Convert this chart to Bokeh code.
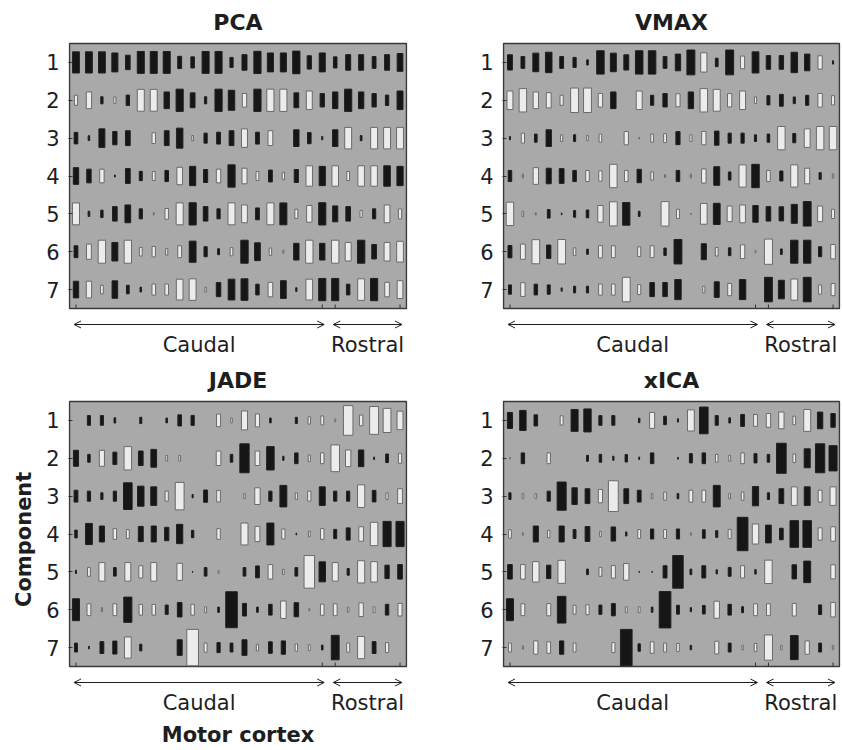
import numpy as np
from bokeh.plotting import figure
from bokeh.models import ColumnDataSource, Range1d, FixedTicker, Label, Arrow, OpenHead, Title
from bokeh.layouts import column, row
from bokeh.embed import file_html
from bokeh.resources import INLINE

# ---------------- data ----------------
components = [1, 2, 3, 4, 5, 6, 7]
n_channels = 26
caudal_span = (0, 19)      # channel index range of the caudal part
rostral_span = (20, 25)    # channel index range of the rostral part
edge_ticks = [0, 19, 20, 25]

# signed weights: >0 drawn black, <0 drawn white; |w| = relative size
pca = [
    [0.57, 0.57, 0.57, 0.51, 0.39, 0.59, 0.59, 0.59, 0.33, 0.30, 0.59, 0.59, 0.27, 0.42, 0.60, 0.51, 0.51, 0.61, 0.36, 0.51, 0.30, 0.42, 0.42, 0.32, 0.42, 0.48],
    [-0.27, -0.45, 0.19, -0.18, 0.28, -0.59, -0.59, 0.45, 0.60, 0.40, 0.19, 0.60, 0.54, -0.37, 0.60, -0.60, -0.60, 0.40, -0.50, 0.36, 0.45, 0.60, 0.45, 0.36, 0.28, 0.50],
    [0.31, 0.13, 0.50, 0.36, 0.40, 0.0, -0.29, 0.40, 0.54, -0.14, 0.27, 0.32, 0.40, -0.50, 0.32, -0.40, 0.0, 0.45, 0.30, 0.09, 0.45, -0.58, 0.14, -0.58, -0.58, -0.58],
    [0.45, 0.37, -0.37, 0.06, 0.40, 0.25, -0.24, 0.30, -0.47, 0.52, 0.35, -0.37, 0.60, -0.42, -0.24, 0.32, -0.20, 0.35, -0.55, 0.52, -0.55, -0.24, -0.55, -0.55, 0.55, 0.52],
    [-0.59, 0.14, 0.20, 0.39, 0.48, 0.27, -0.07, -0.29, -0.59, 0.60, 0.39, 0.27, -0.59, -0.48, 0.32, -0.59, 0.59, -0.25, -0.45, 0.60, 0.43, 0.39, -0.19, 0.27, -0.48, -0.27],
    [0.32, -0.41, -0.62, 0.50, -0.62, -0.23, -0.28, -0.18, -0.32, 0.57, 0.27, 0.16, -0.22, 0.62, 0.48, -0.20, -0.09, 0.45, -0.62, 0.45, -0.62, -0.50, 0.62, 0.39, -0.50, -0.56],
    [0.45, -0.45, -0.23, 0.47, 0.23, 0.13, -0.30, -0.30, -0.56, -0.58, -0.13, 0.38, 0.56, 0.58, 0.29, -0.39, 0.48, 0.10, -0.56, 0.60, 0.60, 0.29, -0.58, 0.60, -0.39, -0.48],
]
vmax = [
    [0.41, 0.32, 0.50, 0.55, 0.32, 0.27, 0.14, 0.63, 0.50, 0.41, 0.63, 0.63, 0.32, 0.45, 0.67, -0.52, 0.23, 0.67, -0.34, 0.57, 0.37, 0.37, 0.55, 0.45, -0.36, 0.09],
    [-0.50, -0.63, -0.45, -0.41, -0.27, -0.66, -0.66, -0.37, 0.45, 0.0, -0.50, 0.27, 0.36, -0.35, 0.45, -0.63, -0.59, -0.36, -0.50, -0.18, 0.25, 0.32, 0.18, 0.27, -0.37, -0.25],
    [0.09, -0.27, 0.22, 0.45, -0.18, 0.18, -0.14, -0.22, 0.0, -0.36, -0.05, -0.22, -0.24, 0.35, -0.18, -0.36, 0.38, 0.27, 0.27, 0.18, 0.22, -0.63, 0.25, -0.50, -0.63, -0.63],
    [0.30, -0.10, -0.45, 0.42, 0.40, 0.30, -0.30, -0.28, -0.63, -0.30, 0.36, -0.22, -0.08, 0.30, -0.10, -0.38, 0.50, 0.22, -0.60, 0.63, -0.30, 0.27, -0.60, -0.42, 0.18, -0.12],
    [-0.63, -0.14, -0.07, 0.23, 0.05, 0.18, 0.21, -0.45, -0.65, 0.61, 0.14, 0.0, -0.66, -0.25, -0.04, -0.56, 0.57, -0.42, -0.48, 0.45, 0.39, 0.38, 0.51, 0.66, -0.42, -0.25],
    [0.33, -0.41, -0.65, 0.36, -0.66, -0.21, 0.14, -0.33, -0.32, 0.0, -0.26, -0.32, 0.20, 0.66, 0.0, 0.43, -0.23, 0.21, -0.37, -0.07, -0.68, 0.15, 0.62, 0.62, 0.27, -0.39],
    [0.25, -0.37, 0.29, 0.25, 0.09, 0.18, 0.18, -0.30, -0.30, -0.66, -0.27, 0.38, 0.38, 0.54, 0.0, -0.18, 0.42, -0.33, 0.54, 0.0, 0.66, 0.50, -0.57, 0.66, -0.25, -0.33],
]
jade = [
    [0.0, 0.26, 0.26, 0.14, 0.0, 0.17, 0.0, 0.13, 0.30, 0.27, 0.0, -0.34, -0.13, -0.51, -0.35, 0.13, 0.0, 0.17, -0.20, -0.24, -0.08, -0.80, -0.29, -0.75, -0.65, -0.50],
    [0.43, 0.21, -0.43, 0.33, -0.63, 0.39, 0.48, -0.15, -0.15, 0.0, 0.0, -0.39, 0.21, 0.78, -0.39, 0.63, 0.11, 0.29, -0.18, -0.29, -0.72, -0.45, 0.45, 0.07, 0.23, -0.27],
    [0.32, 0.27, 0.18, 0.27, 0.72, 0.54, 0.50, -0.27, -0.74, 0.09, 0.33, -0.31, 0.0, -0.13, -0.45, 0.27, 0.58, -0.18, -0.27, 0.50, 0.27, 0.27, -0.61, 0.31, -0.18, -0.40],
    [0.21, 0.57, 0.43, -0.29, -0.24, 0.41, 0.43, 0.36, 0.52, 0.20, 0.0, -0.29, 0.0, -0.59, -0.41, 0.59, -0.27, 0.05, -0.15, -0.29, 0.25, 0.33, -0.39, -0.63, 0.68, 0.68],
    [0.09, -0.24, -0.50, 0.23, -0.50, -0.33, -0.50, 0.0, -0.46, 0.03, 0.23, -0.08, 0.0, 0.23, 0.32, -0.39, -0.14, 0.23, -0.88, 0.54, -0.50, 0.18, -0.60, -0.55, 0.36, 0.39],
    [0.59, -0.32, -0.11, -0.32, 0.68, -0.29, -0.29, 0.25, 0.39, -0.29, -0.16, 0.14, 0.97, 0.34, 0.14, 0.29, -0.47, 0.38, -0.07, -0.30, -0.32, -0.14, -0.37, -0.16, 0.29, -0.34],
    [0.24, 0.07, 0.32, 0.35, -0.57, 0.18, 0.0, 0.0, 0.42, -0.98, -0.25, 0.27, 0.24, 0.42, -0.18, 0.31, 0.36, -0.20, -0.16, 0.13, 0.66, -0.25, -0.60, 0.32, -0.27, 0.0],
]
xica = [
    [0.43, 0.54, 0.30, 0.0, -0.25, 0.59, 0.62, 0.26, 0.26, 0.0, 0.12, -0.43, 0.23, 0.09, -0.57, 0.72, 0.26, 0.14, 0.32, -0.32, -0.37, -0.45, -0.23, -0.59, 0.45, 0.37],
    [-0.05, 0.29, 0.0, -0.29, 0.0, 0.0, 0.16, 0.21, 0.11, 0.20, 0.07, 0.29, 0.0, 0.05, 0.25, 0.29, -0.21, -0.16, -0.29, 0.25, 0.21, 0.81, -0.23, 0.51, 0.78, 0.68],
    [0.18, -0.14, -0.14, 0.27, 0.76, 0.45, 0.40, -0.36, -0.83, 0.40, 0.32, -0.14, -0.22, 0.14, -0.32, -0.32, 0.58, -0.14, -0.22, 0.52, 0.18, 0.40, -0.50, 0.50, -0.32, -0.50],
    [-0.23, -0.07, 0.43, -0.20, 0.43, 0.24, 0.40, -0.14, 0.38, 0.11, -0.24, 0.27, -0.24, 0.27, -0.07, 0.23, 0.18, -0.25, 0.90, -0.54, 0.48, 0.31, 0.72, 0.72, -0.33, -0.39],
    [0.39, -0.39, -0.55, 0.36, -0.62, 0.0, 0.15, -0.24, -0.34, -0.45, 0.03, 0.03, 0.33, 0.88, 0.15, 0.33, 0.11, 0.24, -0.33, 0.12, -0.63, 0.0, 0.38, 0.58, 0.0, -0.38],
    [0.59, -0.32, 0.0, -0.33, 0.72, -0.24, -0.27, 0.25, 0.33, -0.16, -0.16, 0.14, 0.98, 0.24, 0.11, 0.23, -0.46, 0.29, 0.16, -0.32, -0.32, 0.0, -0.34, 0.0, 0.26, -0.39],
    [-0.24, -0.09, -0.36, -0.31, 0.36, -0.24, 0.0, 0.0, -0.27, 0.98, 0.20, -0.31, -0.24, -0.22, 0.12, 0.0, -0.34, 0.24, -0.12, -0.22, -0.68, -0.12, 0.65, -0.36, 0.24, -0.12],
]

titles = ["PCA", "VMAX", "JADE", "xICA"]

# ---------------- style ----------------
FONT = "DejaVu Sans"
BG = "#a9a9a9"
POS = "#161616"
NEG = "#ececec"
TXT = "#1e1e1e"
W_SCALE = 0.92   # column units at |w| = 1
H_SCALE = 0.98   # row units at |w| = 1
PANEL_H = 265    # pixel height of one grey panel


def panel(title, weights, width, height, bl, br, pad_top, bb=0, motor=False, comp=False):
    n_rows = len(components)
    unit = PANEL_H / n_rows                       # px per row
    frame_w = width - bl - br
    frame_h = height - bb
    xu = frame_w / n_channels                     # px per column
    pad_bottom = frame_h - pad_top - PANEL_H
    y_lo = 0.5 - pad_top / unit
    y_hi = n_rows + 0.5 + pad_bottom / unit
    xpad = 1.0 / xu
    p = figure(width=width, height=height,
               x_range=Range1d(-0.5 - xpad, n_channels - 0.5 + xpad),
               y_range=Range1d(y_hi, y_lo),
               x_axis_location=None,
               output_backend="svg", toolbar_location=None,
               min_border_left=bl, min_border_right=br,
               min_border_top=0, min_border_bottom=bb,
               background_fill_color="white", border_fill_color="white",
               outline_line_color=None)
    p.grid.visible = False

    # grey panel with frame
    p.quad(left=[-0.5], right=[n_channels - 0.5], top=[0.5], bottom=[n_rows + 0.5],
           fill_color=BG, line_color="#3a3a3a", line_width=1.5)

    xs, ys, ws, hs, fills, lines = [], [], [], [], [], []
    for ci, comp_row in zip(components, weights):
        for ch, v in enumerate(comp_row):
            if v == 0:
                continue
            xs.append(ch)
            ys.append(ci)
            ws.append(abs(v) * W_SCALE)
            hs.append(abs(v) * H_SCALE)
            fills.append(POS if v > 0 else NEG)
            lines.append("#202020" if v > 0 else "#6a6a6a")
    src = ColumnDataSource(dict(x=xs, y=ys, w=ws, h=hs, fill=fills, line=lines))
    p.rect(x="x", y="y", width="w", height="h", source=src,
           fill_color="fill", line_color="line", line_width=1)

    # small inward ticks on the bottom edge
    p.segment(x0=edge_ticks, x1=edge_ticks,
              y0=[n_rows + 0.5] * len(edge_ticks),
              y1=[n_rows + 0.5 - 4 / unit] * len(edge_ticks),
              line_color="#333333", line_width=1)

    ya = p.yaxis[0]
    ya.ticker = FixedTicker(ticks=components)
    ya.axis_line_color = None
    ya.major_tick_in = 4
    ya.major_tick_out = 0
    ya.major_tick_line_color = "#333333"
    ya.minor_tick_line_color = None
    ya.major_label_standoff = 9
    ya.major_label_text_font = FONT
    ya.major_label_text_font_size = "21px"
    ya.major_label_text_color = TXT

    y_top = 0.5 - 21 / unit
    y_arrow = n_rows + 0.5 + 16 / unit
    y_lab = n_rows + 0.5 + 36 / unit

    p.add_layout(Label(x=(n_channels - 1) / 2, y=y_top, text=title,
                       text_align="center", text_baseline="middle",
                       text_font=FONT, text_font_style="bold",
                       text_font_size="22px", text_color=TXT))

    for span, name in ((caudal_span, "Caudal"), (rostral_span, "Rostral")):
        x0, x1 = span[0] - 0.15, span[1] + 0.15
        p.add_layout(Arrow(start=OpenHead(size=7, line_width=1, line_color=TXT),
                           end=OpenHead(size=7, line_width=1, line_color=TXT),
                           x_start=x0, x_end=x1, y_start=y_arrow, y_end=y_arrow,
                           line_width=1, line_color=TXT))
        p.add_layout(Label(x=(x0 + x1) / 2, y=y_lab, text=name,
                           text_align="center", text_baseline="middle",
                           text_font=FONT, text_font_size="21px", text_color=TXT))

    if motor:
        p.add_layout(Title(text="Motor cortex", align="center", vertical_align="bottom",
                           text_font=FONT, text_font_style="bold",
                           text_font_size="21px", text_color=TXT, standoff=8),
                     "below")
    if comp:
        # rotated title left of the tick labels; its centre placed near the
        # middle of the panel
        mid_from_bottom = pad_bottom + PANEL_H / 2 - 6
        t = Title(text="Component", align="left",
                  offset=mid_from_bottom - 67,
                  text_font=FONT, text_font_style="bold",
                  text_font_size="21px", text_color=TXT, standoff=15)
        p.add_layout(t, "left")
    return p


p1 = panel(titles[0], pca, 437, 362, 68, 30, pad_top=43)
p2 = panel(titles[1], vmax, 405, 362, 65, 2, pad_top=43)
p3 = panel(titles[2], jade, 437, 388, 68, 30, pad_top=39, bb=34, motor=True, comp=True)
p4 = panel(titles[3], xica, 405, 388, 65, 2, pad_top=39, bb=34)

layout = column(row(p1, p2), row(p3, p4))
open("out.html", "w").write(file_html(layout, INLINE))
